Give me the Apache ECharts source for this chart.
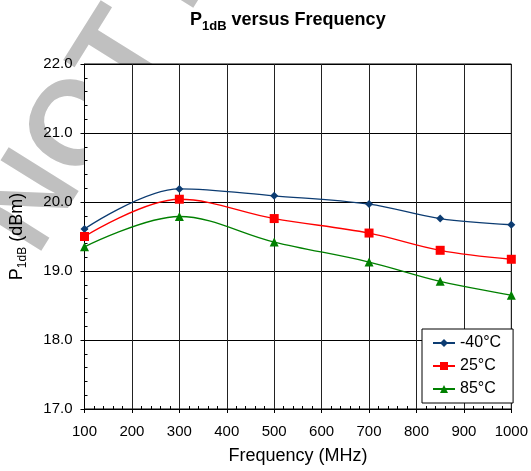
<!DOCTYPE html>
<html>
<head>
<meta charset="utf-8">
<script src="https://cdn.jsdelivr.net/npm/echarts@6/dist/echarts.min.js"></script>
<style>html,body{margin:0;padding:0;background:#fff;}#c{width:531px;height:471px;}</style>
</head>
<body>
<div id="c"></div>
<script>
const frequencies = [100, 300, 500, 700, 850, 1000];
const seriesNames = ['-40°C', '25°C', '85°C'];
const p1dbMinus40 = [19.61, 20.19, 20.09, 19.97, 19.76, 19.67];
const p1dbPlus25 = [19.50, 20.04, 19.76, 19.55, 19.30, 19.17];
const p1dbPlus85 = [19.35, 19.79, 19.42, 19.13, 18.85, 18.65];
const xTicks = [100, 200, 300, 400, 500, 600, 700, 800, 900, 1000];
const yTicks = [17.0, 18.0, 19.0, 20.0, 21.0, 22.0];

const FONT = "'Liberation Sans', Arial, sans-serif";
const chart = echarts.init(document.getElementById('c'), null, {renderer: 'canvas'});

function pairs(vals) { return frequencies.map((f, i) => [f, vals[i]]); }

const colors = ['#0c3c72', '#ff0000', '#008000'];
const symbols = ['diamond', 'rect', 'triangle'];
const symSizes = [8, 9, 9];
const allVals = [p1dbMinus40, p1dbPlus25, p1dbPlus85];

const xMin = xTicks[0], xMax = xTicks[xTicks.length - 1], xInt = xTicks[1] - xTicks[0];
const yMin = yTicks[0], yMax = yTicks[yTicks.length - 1], yInt = yTicks[1] - yTicks[0];

const option = {
  backgroundColor: '#fff',
  animation: false,
  title: {
    text: '{a|P}{b|1dB}{a| versus Frequency}',
    left: 190, top: 8, padding: 0,
    textStyle: {
      rich: {
        a: {fontFamily: FONT, fontSize: 18, fontWeight: 'bold', color: '#000'},
        b: {fontFamily: FONT, fontSize: 13, fontWeight: 'bold', color: '#000', padding: [12, 0, 0, 0]}
      }
    }
  },
  graphic: {
    elements: [{
      type: 'text', z: -100,
      x: 9, y: 240,
      rotation: 58 * Math.PI / 180,
      silent: true,
      style: {
        text: 'NOT RECOMMENDED FOR NEW DESIGNS',
        fill: '#c0c0c0',
        font: "bold 120px 'Liberation Sans', Arial, sans-serif",
        align: 'left', verticalAlign: 'middle'
      }
    }]
  },
  grid: {left: 84, right: 19, top: 64, bottom: 62, show: true, backgroundColor: '#fff', borderColor: '#000', borderWidth: 1},
  legend: {
    orient: 'vertical', left: 422, top: 329,
    padding: [6, 12, 6, 10], itemGap: 7, itemWidth: 22, itemHeight: 10,
    backgroundColor: '#fff', borderColor: '#000', borderWidth: 1, borderRadius: 0,
    textStyle: {fontFamily: FONT, fontSize: 16, color: '#000'},
    data: seriesNames
  },
  xAxis: [{
    type: 'value', min: xMin, max: xMax, interval: xInt, position: 'bottom',
    name: 'Frequency (MHz)', nameLocation: 'middle', nameGap: 38,
    nameTextStyle: {fontFamily: FONT, fontSize: 18, color: '#000'},
    axisLine: {show: true, lineStyle: {color: '#000', width: 1}},
    axisTick: {show: true, inside: false, length: 4, lineStyle: {color: '#000'}},
    axisLabel: {fontFamily: FONT, fontSize: 15, color: '#000', margin: 15, formatter: v => String(v)},
    splitLine: {show: true, lineStyle: {color: '#222', width: 1}}
  }, {
    type: 'value', min: xMin, max: xMax, interval: xInt, position: 'bottom', gridIndex: 0,
    axisLine: {show: false}, axisLabel: {show: false}, splitLine: {show: false},
    axisTick: {show: false, inside: true},
    minorTick: {show: true, splitNumber: 5, length: 3, lineStyle: {color: '#000', width: 1}}
  }],
  yAxis: [{
    type: 'value', min: yMin, max: yMax, interval: yInt, position: 'left',
    name: '{a|P}{b|1dB}{a| (dBm)}', nameLocation: 'middle', nameGap: 56,
    nameTextStyle: {
      rich: {
        a: {fontFamily: FONT, fontSize: 18, color: '#000'},
        b: {fontFamily: FONT, fontSize: 12, color: '#000', padding: [11, 0, 0, 0]}
      }
    },
    axisLine: {show: true, lineStyle: {color: '#000', width: 1}},
    axisTick: {show: true, inside: false, length: 4, lineStyle: {color: '#000'}},
    axisLabel: {fontFamily: FONT, fontSize: 15, color: '#000', margin: 12, formatter: v => v.toFixed(1)},
    splitLine: {show: true, lineStyle: {color: '#000', width: 1}}
  }, {
    type: 'value', min: yMin, max: yMax, interval: yInt, position: 'left', gridIndex: 0,
    axisLine: {show: false}, axisLabel: {show: false}, splitLine: {show: false},
    axisTick: {show: false, inside: true},
    minorTick: {show: true, splitNumber: 5, length: 3, lineStyle: {color: '#000', width: 1}}
  }],
  series: seriesNames.map((name, i) => ({
    name: name, type: 'line', xAxisIndex: 0, yAxisIndex: 0,
    data: pairs(allVals[i]),
    smooth: 0.35,
    symbol: symbols[i], symbolSize: symSizes[i],
    showAllSymbol: true,
    lineStyle: {color: colors[i], width: 1.3},
    itemStyle: {color: colors[i]},
    z: 5
  }))
};
chart.setOption(option);
</script>
</body>
</html>
